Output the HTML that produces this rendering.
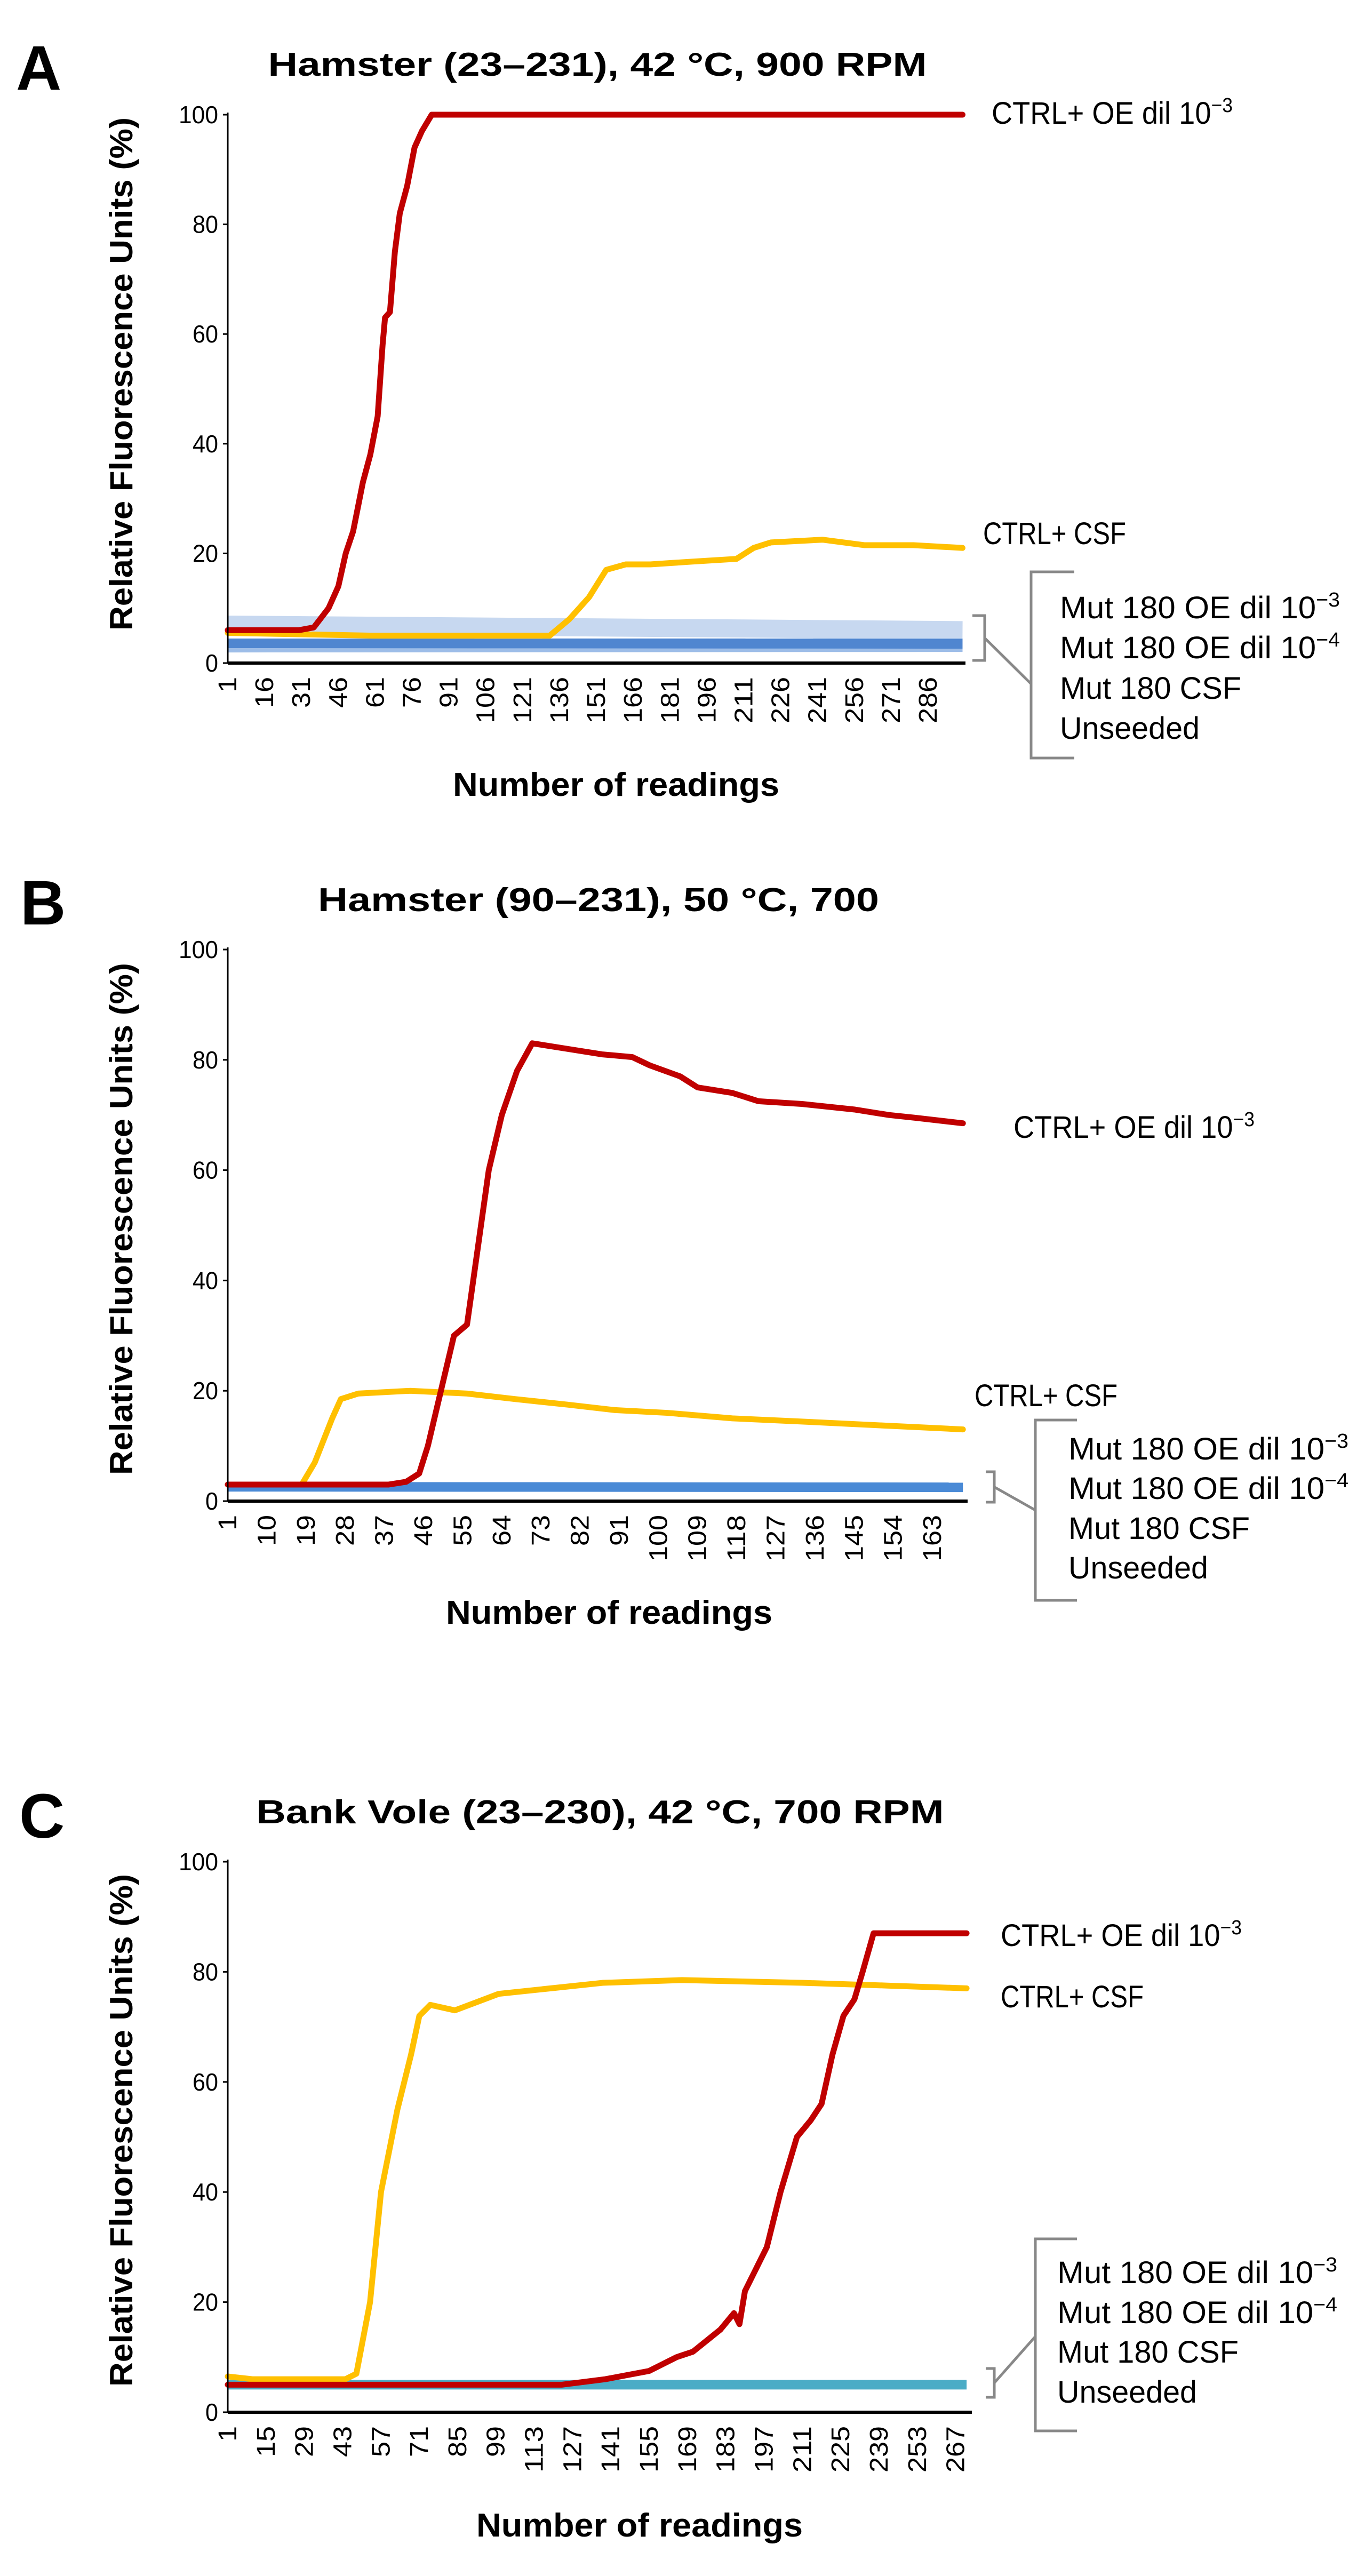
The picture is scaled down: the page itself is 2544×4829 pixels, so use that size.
<!DOCTYPE html>
<html><head><meta charset="utf-8"><style>
html,body{margin:0;padding:0;background:#fff;}
svg{display:block;font-family:"Liberation Sans",sans-serif;}
</style></head><body>
<svg id="fig" width="2544" height="4829" viewBox="0 0 2544 4829" xmlns="http://www.w3.org/2000/svg"></svg>
<script>
// ---- Panel A data (reading, %RFU) ----
const aRedX=[1,30,36,42,46,49,52,56,59,62,64,65,67,69,71,74,77,80,84,300];
const aRedY=[6,6,6.5,10,14,20,24,33,38,45,58,63,64,75,82,87,94,97,100,100];
const aYelX=[1,60,132,140,148,155,163,173,190,208,215,222,243,260,280,300];
const aYelY=[5.5,5,5,8,12,17,18,18,18.5,19,21,22,22.5,21.5,21.5,21];
const aBlueX=[1,300];
const aLightBlueY=[7,6];
const aDarkBlueY=[3.6,3.5];
const aTicks=[1,16,31,46,61,76,91,106,121,136,151,166,181,196,211,226,241,256,271,286];
// ---- Panel B data ----
const bRedX=[1,38,42,45,47,50,53,56,61,64,67.5,71,79,87,94,98,105,109,117,123,133,145,153,159,170];
const bRedY=[3,3,3.5,5,10,20,30,32,60,70,78,83,82,81,80.5,79,77,75,74,72.5,72,71,70,69.5,68.5];
const bYelX=[1,18,21,25,27,31,43,56,67,79,90,102,117,131,144,157,170];
const bYelY=[3,3,7,15,18.5,19.5,20,19.5,18.5,17.5,16.5,16,15,14.5,14,13.5,13];
const bBlueX=[1,170];
const bBlueY=[2.6,2.5];
const bTicks=[1,10,19,28,37,46,55,64,73,82,91,100,109,118,127,136,145,154,163];
// ---- Panel C data ----
const cRedX=[1,123,139,155,165,171,181,186,188,190,198,203,209,214,218,222,226,230,233,237,271];
const cRedY=[5,5,6,7.5,10,11,15,18,16,22,30,40,50,53,56,65,72,75,80,87,87];
const cYelX=[1,10,44,48,53,57,63,68,71,75,84,100,119,138,167,211,242,271];
const cYelY=[6.5,6,6,7,20,40,55,65,72,74,73,76,77,78,78.5,78,77.5,77];
const cBlueX=[1,271];
const cBlueY=[5,5];
const cTicks=[1,15,29,43,57,71,85,99,113,127,141,155,169,183,197,211,225,239,253,267];

const NS="http://www.w3.org/2000/svg";
const svg=document.getElementById('fig');
function mk(tag,attrs,parent){const e=document.createElementNS(NS,tag);for(const k in attrs)e.setAttribute(k,attrs[k]);(parent||svg).appendChild(e);return e;}

function panel(p){
  const g=mk('g',{});
  
  
  const sx=r=>p.x0+(r-1)*p.px;
  const sy=v=>p.y0-(p.y0-p.y100)*v/100;
  // letter
  const L=mk('text',{x:p.lx,y:p.ly,'font-size':118,'font-weight':'bold',fill:'#000'},g);
  L.textContent=p.id;
  
  
  const T=mk('text',{x:p.tx,y:p.ty,'font-size':62,'font-weight':'bold','text-anchor':'middle',textLength:p.tw,lengthAdjust:'spacingAndGlyphs'},g);
  T.textContent=p.title;
  
  
  // y-axis title
  const yc=(p.ya+p.yb)/2;
  const YT=mk('text',{x:0,y:0,'font-size':60,'font-weight':'bold','text-anchor':'middle',textLength:p.yb-p.ya,lengthAdjust:'spacingAndGlyphs',transform:`translate(${248},${yc}) rotate(-90)`},g);
  YT.textContent='Relative Fluorescence Units (%)';
  
  
  // series: blue bands first
  p.bands.forEach(b=>{
    const pts=b.x.map((r,i)=>sx(r)+','+sy(b.y[i])).join(' ');
    const pl=mk('polyline',{points:pts,fill:'none',stroke:b.c,'stroke-width':b.w,'stroke-linejoin':'round'},g);
    
    
  });
  p.lines.forEach(s=>{
    const pts=s.x.map((r,i)=>sx(r)+','+sy(s.y[i])).join(' ');
    const pl=mk('polyline',{points:pts,fill:'none',stroke:s.c,'stroke-width':11,'stroke-linejoin':'round','stroke-linecap':'round'},g);
    
    
  });
  // axes
  const ya=mk('line',{x1:p.x0,y1:p.y100-4,x2:p.x0,y2:p.y0,stroke:'#000','stroke-width':3},g);
  
  
  const xa=mk('line',{x1:p.x0,y1:p.y0,x2:p.xr,y2:p.y0,stroke:'#000','stroke-width':6},g);
  
  
  [0,20,40,60,80,100].forEach(v=>{
    mk('line',{x1:p.x0-9,y1:sy(v),x2:p.x0,y2:sy(v),stroke:'#000','stroke-width':3},g);
    const t=mk('text',{x:p.x0-18,y:sy(v)+16,'font-size':46,'text-anchor':'end',textLength:(v===100?74:v===0?24:48),lengthAdjust:'spacingAndGlyphs'},g);
    t.textContent=v;
    
    
  });
  p.ticks.forEach(r=>{
    const x=sx(r);
    const s=String(r);
    const t=mk('text',{x:0,y:0,'font-size':48,'text-anchor':'end',textLength:s.length*29,lengthAdjust:'spacingAndGlyphs',transform:`translate(${x+16},${p.y0+26}) rotate(-90)`},g);
    t.textContent=s;
    
    
  });
  const XT=mk('text',{x:p.xtx,y:p.xty+20,'font-size':62,'font-weight':'bold','text-anchor':'middle',textLength:612,lengthAdjust:'spacingAndGlyphs'},g);
  XT.textContent='Number of readings';
  
  
  // legend labels
  function lab(x,y,txt,sup,w,name){
    const t=mk('text',{x:x,y:y+20,'font-size':58},g);
    
    
    const a=mk('tspan',{},t);a.textContent=txt;
    if(sup){const b=mk('tspan',{dy:-22,'font-size':38},t);b.textContent=sup;}
    if(w){t.setAttribute('textLength',w);t.setAttribute('lengthAdjust','spacingAndGlyphs');}
  }
  lab(p.l1x,p.l1y,'CTRL+ OE dil 10','−3',452,'label-ctrl-oe');
  lab(p.l2x,p.l2y,'CTRL+ CSF',null,268,'label-ctrl-csf');
  const names=[['Mut 180 OE dil 10','−3'],['Mut 180 OE dil 10','−4'],['Mut 180 CSF',null],['Unseeded',null]];
  const ws=[525,525,340,262];
  names.forEach((n,i)=>lab(p.mx,p.my[i],n[0],n[1],ws[i],'label-mut-'+i));
  // brackets
  const br=p.sb;
  const s1=mk('path',{d:`M${br[0]},${br[1]} H${br[2]} V${br[3]} H${br[0]}`,fill:'none',stroke:'#888','stroke-width':5},g);
  
  
  const bb=p.bb;
  const s2=mk('path',{d:`M${bb[2]},${bb[1]} H${bb[0]} V${bb[3]} H${bb[2]}`,fill:'none',stroke:'#888','stroke-width':5},g);
  
  
  const cl=mk('line',{x1:br[2],y1:(br[1]+br[3])/2,x2:bb[0],y2:p.cy,stroke:'#888','stroke-width':5},g);
  
  
}

panel({id:'A',title:'Hamster (23–231), 42 °C, 900 RPM',lx:30,ly:168,tx:1120,ty:142,tw:1235,
  x0:427,xr:1810,px:4.607,y0:1243,y100:215,ya:220,yb:1182,ticks:aTicks,xtx:1155,xty:1472,
  bands:[{x:aBlueX,y:aLightBlueY,c:'#c7d8f0',w:34,name:'series-mut180-oe3'},{x:aBlueX,y:[3.2,3.3],c:'#9dbde8',w:26,name:'series-mut180-oe4'},{x:aBlueX,y:aDarkBlueY,c:'#5086d0',w:18,name:'series-unseeded'}],
  lines:[{x:aYelX,y:aYelY,c:'#ffc000',name:'series-ctrl-csf'},{x:aRedX,y:aRedY,c:'#c00000',name:'series-ctrl-oe'}],
  l1x:1859,l1y:212,l2x:1843,l2y:1000,mx:1987,my:[1139,1214,1290,1365],
  sb:[1823,1154,1846,1238],bb:[1933,1072,2014,1421],cy:1282});

panel({id:'B',title:'Hamster (90–231), 50 °C, 700',lx:38,ly:1733,tx:1122,ty:1708,tw:1052,
  x0:427,xr:1814,px:8.155,y0:2814,y100:1780,ya:1805,yb:2765,ticks:bTicks,xtx:1142,xty:3024,
  bands:[{x:bBlueX,y:bBlueY,c:'#4a8ad6',w:18,name:'series-mut-unseeded'}],
  lines:[{x:bYelX,y:bYelY,c:'#ffc000',name:'series-ctrl-csf'},{x:bRedX,y:bRedY,c:'#c00000',name:'series-ctrl-oe'}],
  l1x:1900,l1y:2113,l2x:1827,l2y:2616,mx:2003,my:[2716,2790,2865,2939],
  sb:[1848,2759,1864,2816],bb:[1941,2662,2019,3000],cy:2831});

panel({id:'C',title:'Bank Vole (23–230), 42 °C, 700 RPM',lx:36,ly:3445,tx:1125,ty:3418,tw:1289,
  x0:427,xr:1822,px:5.13,y0:4522,y100:3490,ya:3513,yb:4474,ticks:cTicks,xtx:1199,xty:4735,
  bands:[{x:cBlueX,y:cBlueY,c:'#4bacc6',w:18,name:'series-mut-unseeded'}],
  lines:[{x:cYelX,y:cYelY,c:'#ffc000',name:'series-ctrl-csf'},{x:cRedX,y:cRedY,c:'#c00000',name:'series-ctrl-oe'}],
  l1x:1876,l1y:3628,l2x:1876,l2y:3743,mx:1982,my:[4260,4335,4409,4484],
  sb:[1848,4440,1864,4494],bb:[1941,4197,2019,4557],cy:4380});
</script>
</body></html>
